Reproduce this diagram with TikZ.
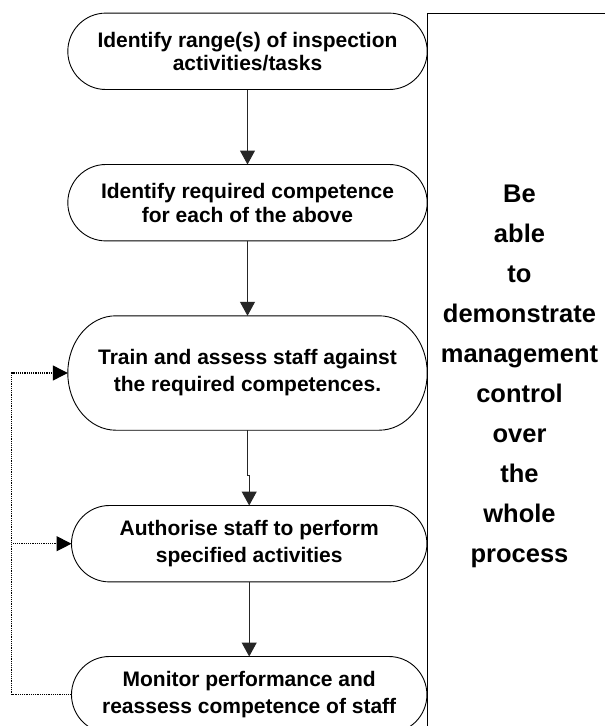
\documentclass[tikz,border=0pt]{standalone}
\usepackage{fontspec}
\setmainfont{Liberation Sans}
\usetikzlibrary{arrows.meta,calc}
\newcommand\termline[2]{%
  \draw[boxline] let \p1=(#1.north west), \p2=(#1.south east), \n1={(\y1-\y2)/2} in
    (\x1+#2,\y1) -- (\x2-#2,\y1) arc[start angle=90,end angle=-90,x radius=#2,y radius=\n1]
    -- (\x1+#2,\y2) arc[start angle=270,end angle=90,x radius=#2,y radius=\n1] -- cycle;}
\begin{document}
\begin{tikzpicture}[x=1pt,y=1pt,
  box/.style={draw=none,inner sep=0pt,align=center,minimum height=76pt,minimum width=355pt},
  fa/.style={font=\bfseries\fontsize{21}{23}\selectfont},
  fb/.style={font=\bfseries\fontsize{21}{24}\selectfont},
  fc/.style={font=\bfseries\fontsize{21}{27}\selectfont},
  boxline/.style={draw=black,line width=0.9pt},
  frame/.style={draw=black,line width=1pt},
  arr/.style={draw=black!85,line width=1pt,-{Triangle[width=15pt,length=14pt]}},
  fback/.style={draw=black,line width=1.2pt,dash pattern=on 1.2pt off 1pt},
  fbarr/.style={fback,-{Triangle[width=15pt,length=15pt]}},
  side/.style={inner sep=0pt,align=center,font=\bfseries\fontsize{25.5}{40}\selectfont}
]
\useasboundingbox (0,0) rectangle (605,-726);
\fill[white] (0,0) rectangle (605,-726);

\node[box,fa,minimum width=359pt] (b1) at (247.5,-51.3) {Identify range(s) of inspection\\activities/tasks};
\node[box,fb,minimum width=359pt] (b2) at (247.5,-202.7) {Identify required competence\\for each of the above};
\node[box,fc,minimum width=359pt,minimum height=114pt] (b3) at (247.5,-373) {Train and assess staff against\\the required competences.};
\node[box,fc] (b4) at (249.2,-543.7) {Authorise staff to perform\\specified activities};
\node[box,fc] (b5) at (249.2,-694.7) {Monitor performance and\\reassess competence of staff};

\termline{b1}{38pt}
\termline{b2}{38pt}
\termline{b3}{48pt}
\termline{b4}{38pt}
\termline{b5}{38pt}

\draw[arr] (b1.south) -- (b2.north);
\draw[arr] (b2.south) -- (b3.north);
\draw[arr] (b3.south) -- ++(0,-45) -| (b4.north);
\draw[arr] (b4.south) -- (b5.north);

\coordinate (fbx) at (11.7,0);
\draw[fback] (b5.west) -- (b5.west -| fbx);
\draw[fbarr] (b5.west -| fbx) |- (b3.west);
\draw[fbarr] (b5.west -| fbx) |- (b4.west);

\coordinate (fr) at (427.3,-13.3);
\draw[frame] (427.3,-726) -- (fr) -- (605,-13.3);

\node[side] (ctl) at (519.5,-376.8) {Be\\able\\to\\demonstrate\\management\\control\\over\\the\\whole\\process};
\end{tikzpicture}
\end{document}
